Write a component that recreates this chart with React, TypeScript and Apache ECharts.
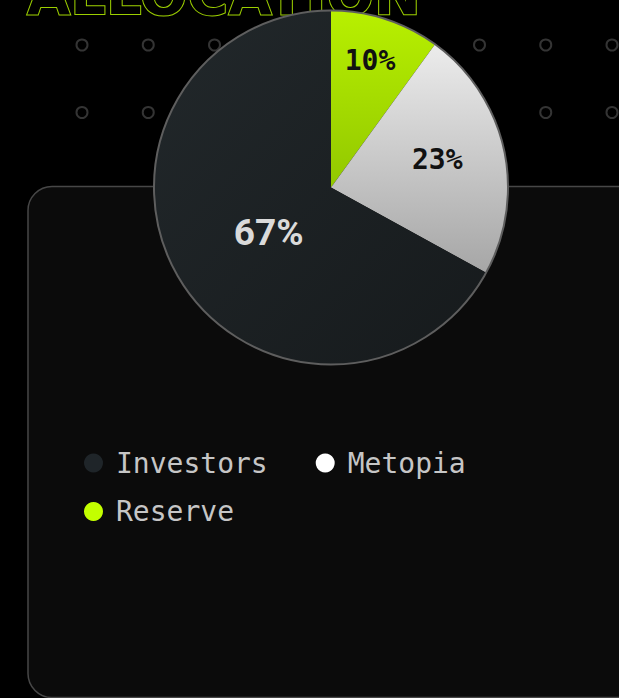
import React, { useEffect, useRef } from "react";
import * as echarts from "echarts";

// ---- data ----
const sliceNames = ["Reserve", "Metopia", "Investors"];
const sliceValues = [10, 23, 67];
const legendRow1 = ["Investors", "Metopia"];
const legendRow2 = ["Reserve"];
const titleText = "ALLOCATION";

// ---- styling / layout constants ----
const W = 619;
const H = 698;
const CX = 331;
const CY = 187.5;
const R = 177;
const labelRadiusFactor = [0.75, 0.615, 0.435];
const labelNudge = [
  [-2, -1],
  [0, -4],
  [4, 6],
];
const legendColors: Record<string, string> = {
  Investors: "#1f2529",
  Metopia: "#ffffff",
  Reserve: "#c3ff00",
};

export default function App() {
  const ref = useRef<HTMLDivElement>(null);

  useEffect(() => {
    document.body.style.margin = "0";
    document.body.style.background = "#000";
    if (!ref.current) return;
    const chart = echarts.init(ref.current, null, { renderer: "svg", width: W, height: H });

    const sliceColors = [
      new echarts.graphic.LinearGradient(0, 0, 0, 1, [
        { offset: 0, color: "#b8f000" },
        { offset: 1, color: "#92c800" },
      ]),
      new echarts.graphic.LinearGradient(0, 0, 0, 1, [
        { offset: 0, color: "#ececec" },
        { offset: 1, color: "#a6a6a6" },
      ]),
      new echarts.graphic.LinearGradient(0, 0, 1, 1, [
        { offset: 0, color: "#22282b" },
        { offset: 1, color: "#161a1c" },
      ]),
    ];

    const darkLabel = {
      color: "#111111",
      fontFamily: "DejaVu Sans Mono",
      fontWeight: "bold" as const,
      fontSize: 28,
    };
    const lightLabel = {
      color: "#dadada",
      fontFamily: "Roboto",
      fontWeight: "bold" as const,
      fontSize: 37,
    };

    const pieData = sliceNames.map((name, i) => ({
      name,
      value: sliceValues[i],
      itemStyle: { color: sliceColors[i] },
      label: name === "Investors" ? lightLabel : darkLabel,
    }));

    const dots: any[] = [];
    const dotRows = [45, 112.5];
    for (const y of dotRows) {
      for (let k = 0; k < 9; k++) {
        dots.push({
          type: "circle",
          shape: { cx: 82 + 66.25 * k, cy: y, r: 5.5 },
          style: { fill: "none", stroke: "#343434", lineWidth: 2 },
          silent: true,
          z: 0,
        });
      }
    }

    const legendText = {
      color: "#c6c6c6",
      fontFamily: "DejaVu Sans Mono",
      fontSize: 28,
      lineHeight: 28,
      padding: [0, 0, 0, 8],
    };

    const mkLegend = (names: string[], top: number, gap: number) => ({
      orient: "horizontal",
      left: 84,
      top,
      padding: 0,
      itemGap: gap,
      itemWidth: 19,
      itemHeight: 19,
      icon: "circle",
      selectedMode: false,
      textStyle: legendText,
      data: names.map((n) => ({ name: n, icon: "circle", itemStyle: { color: legendColors[n], borderWidth: 0 } })),
    });

    const option: any = {
      animation: false,
      backgroundColor: "#000000",
      legend: [mkLegend(legendRow1, 449, 48), mkLegend(legendRow2, 497.5, 48)],
      graphic: [
        ...dots,
        {
          type: "text",
          x: 27,
          y: -6,
          silent: true,
          z: 1,
          style: {
            text: titleText,
            font: "bold 56px 'DejaVu Sans'",
            fill: "#000000",
            stroke: "#9ccf00",
            lineWidth: 2,
            textAlign: "left",
            textVerticalAlign: "middle",
          },
        },
        {
          type: "rect",
          silent: true,
          z: 1,
          shape: { x: 28, y: 186.5, width: 700, height: 511, r: 24 },
          style: { fill: "#0b0b0b", stroke: "#474747", lineWidth: 1.5 },
        },
      ],
      series: [
        {
          type: "pie",
          name: "allocation",
          center: [CX, CY],
          radius: [0, R],
          startAngle: 90,
          clockwise: true,
          silent: true,
          avoidLabelOverlap: false,
          label: {
            show: true,
            position: "inside",
            formatter: "{c}%",
          },
          labelLine: { show: false },
          emphasis: { disabled: true },
          labelLayout: (p: any) => {
            const k = labelRadiusFactor[p.dataIndex];
            const lr = p.labelRect;
            const lx = lr.x + lr.width / 2;
            const ly = lr.y + lr.height / 2;
            const vx = lx - CX;
            const vy = ly - CY;
            const len = Math.hypot(vx, vy) || 1;
            const d = k * R - len;
            const n = labelNudge[p.dataIndex];
            return { dx: (vx / len) * d + n[0], dy: (vy / len) * d + n[1] };
          },
          data: pieData,
          z: 3,
        },
        {
          type: "pie",
          name: "outline",
          center: [CX, CY],
          radius: [0, R],
          silent: true,
          label: { show: false },
          labelLine: { show: false },
          emphasis: { disabled: true },
          itemStyle: { color: "rgba(0,0,0,0)", borderColor: "#5e5e5e", borderWidth: 2 },
          data: [{ name: "outline", value: 1 }],
          z: 4,
        },
      ],
    };

    chart.setOption(option);
    return () => chart.dispose();
  }, []);

  return (
    <div
      ref={ref}
      style={{ position: "fixed", left: 0, top: 0, width: W, height: H, background: "#000" }}
    />
  );
}
